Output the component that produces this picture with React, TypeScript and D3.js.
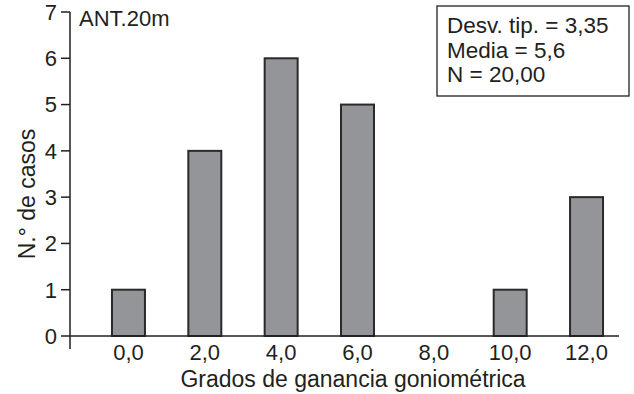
import * as d3 from 'd3'
import { useEffect, useRef } from 'react'

const categories = ['0,0', '2,0', '4,0', '6,0', '8,0', '10,0', '12,0']
const counts = [1, 4, 6, 5, 0, 1, 3]
const yTicks = [0, 1, 2, 3, 4, 5, 6, 7]
const statsLines = ['Desv. tip. = 3,35', 'Media = 5,6', 'N = 20,00']

export default function App() {
  const svgRef = useRef<SVGSVGElement>(null)

  useEffect(() => {
    if (!svgRef.current) return
    d3.select(svgRef.current).selectAll('*').remove()

    const width = 634
    const height = 394
    const ink = '#231f20'
    const svg = d3
      .select(svgRef.current)
      .attr('width', width)
      .attr('height', height)
      .style('font-family', '"Liberation Sans", Arial, sans-serif')

    const axisX = 70
    const x = d3
      .scaleBand()
      .domain(categories)
      .range([90.3, 624.7])
      .paddingInner(0.568)
      .paddingOuter(0.284)
    const y = d3.scaleLinear().domain([0, 7]).range([336, 12])

    // Bars (zero-count category draws nothing)
    svg
      .selectAll('.bar')
      .data(counts.map((c, i) => ({ c, cat: categories[i] })).filter(d => d.c > 0))
      .enter()
      .append('rect')
      .attr('class', 'bar')
      .attr('x', d => x(d.cat)!)
      .attr('y', d => y(d.c))
      .attr('width', x.bandwidth())
      .attr('height', d => y(0) - y(d.c))
      .attr('fill', '#939598')
      .attr('stroke', '#2a2a2a')
      .attr('stroke-width', 2)

    // Axis lines
    svg
      .append('line')
      .attr('x1', axisX)
      .attr('x2', axisX)
      .attr('y1', y(7))
      .attr('y2', 349)
      .attr('stroke', ink)
      .attr('stroke-width', 1.5)
    svg
      .append('line')
      .attr('x1', axisX)
      .attr('x2', 619)
      .attr('y1', y(0))
      .attr('y2', y(0))
      .attr('stroke', ink)
      .attr('stroke-width', 1.5)

    // Y ticks
    const yt = svg.append('g')
    yTicks.forEach(t => {
      yt.append('line')
        .attr('x1', axisX - 9)
        .attr('x2', axisX)
        .attr('y1', y(t))
        .attr('y2', y(t))
        .attr('stroke', ink)
        .attr('stroke-width', 1.5)
      yt.append('text')
        .attr('x', axisX - 13)
        .attr('y', y(t))
        .attr('dy', '0.36em')
        .attr('text-anchor', 'end')
        .style('font-size', '22px')
        .attr('fill', ink)
        .text(t)
    })

    // X tick labels
    categories.forEach(c => {
      svg
        .append('text')
        .attr('x', x(c)! + x.bandwidth() / 2)
        .attr('y', 360)
        .attr('text-anchor', 'middle')
        .style('font-size', '22px')
        .attr('fill', ink)
        .text(c)
    })

    // Axis titles
    svg
      .append('text')
      .attr('x', 353)
      .attr('y', 387)
      .attr('text-anchor', 'middle')
      .style('font-size', '23px')
      .attr('fill', ink)
      .text('Grados de ganancia goniométrica')

    svg
      .append('text')
      .attr('transform', `translate(35,194) rotate(-90)`)
      .attr('text-anchor', 'middle')
      .style('font-size', '23px')
      .attr('fill', ink)
      .text('N.° de casos')

    // Panel title
    svg
      .append('text')
      .attr('x', 79)
      .attr('y', 26)
      .style('font-size', '22px')
      .attr('fill', ink)
      .text('ANT.20m')

    // Stats box
    svg
      .append('rect')
      .attr('x', 437)
      .attr('y', 6)
      .attr('width', 192)
      .attr('height', 90)
      .attr('fill', 'white')
      .attr('stroke', ink)
      .attr('stroke-width', 1.3)
    statsLines.forEach((s, i) => {
      svg
        .append('text')
        .attr('x', 447)
        .attr('y', 33 + i * 24.5)
        .style('font-size', '22.5px')
        .attr('fill', ink)
        .text(s)
    })
  }, [])

  return (
    <div style={{ position: 'absolute', left: 0, top: 0 }}>
      <svg ref={svgRef}></svg>
    </div>
  )
}
